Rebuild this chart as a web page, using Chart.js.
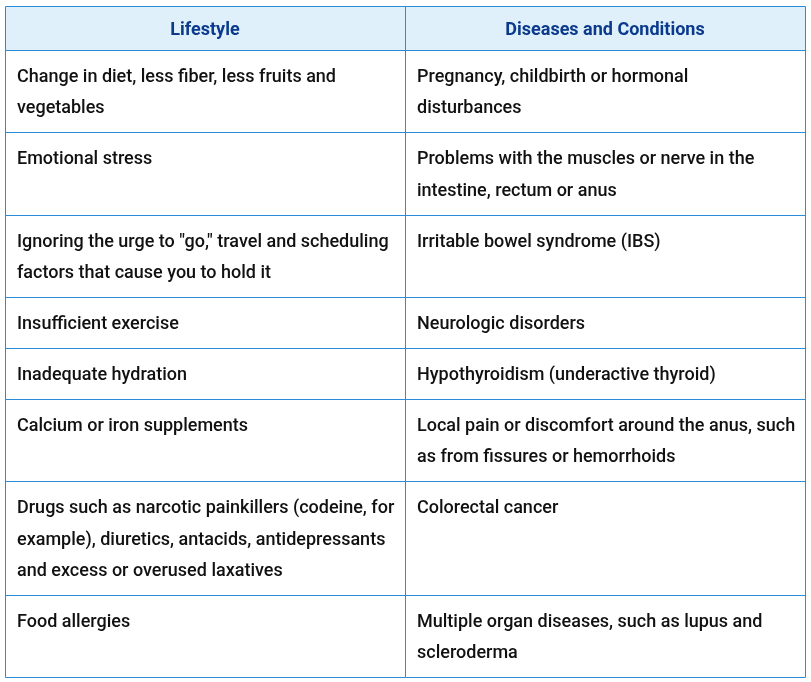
<!DOCTYPE html>
<html>
<head>
<meta charset="utf-8">
<script src="https://cdn.jsdelivr.net/npm/chart.js@4/dist/chart.umd.min.js"></script>
<style>
html,body{margin:0;padding:0;background:#fff;}
#wrap{width:811px;height:682px;}
</style>
</head>
<body>
<div id="wrap"><canvas id="c" width="811" height="682"></canvas></div>
<script>
const headers = ["Lifestyle", "Diseases and Conditions"];
const lifestyle = [
  ["Change in diet, less fiber, less fruits and", "vegetables"],
  ["Emotional stress"],
  ["Ignoring the urge to \"go,\" travel and scheduling", "factors that cause you to hold it"],
  ["Insufficient exercise"],
  ["Inadequate hydration"],
  ["Calcium or iron supplements"],
  ["Drugs such as narcotic painkillers (codeine, for", "example), diuretics, antacids, antidepressants", "and excess or overused laxatives"],
  ["Food allergies"]
];
const diseases = [
  ["Pregnancy, childbirth or hormonal", "disturbances"],
  ["Problems with the muscles or nerve in the", "intestine, rectum or anus"],
  ["Irritable bowel syndrome (IBS)"],
  ["Neurologic disorders"],
  ["Hypothyroidism (underactive thyroid)"],
  ["Local pain or discomfort around the anus, such", "as from fissures or hemorrhoids"],
  ["Colorectal cancer"],
  ["Multiple organ diseases, such as lupus and", "scleroderma"]
];

const HEADER_H = 44, LINE_H = 31, PAD_H = 20, FIRST = 27.5;
const lineCounts = lifestyle.map((l, i) => Math.max(l.length, diseases[i].length));
const rowTops = [];
let acc = HEADER_H;
lineCounts.forEach(n => { rowTops.push(acc); acc += PAD_H + LINE_H * n; });
const total = acc;
const boundaries = [0, HEADER_H, ...rowTops.slice(1), total];

const BORDER = "#2a8bd6";
const tablePlugin = {
  id: "table",
  beforeDraw(chart) {
    const ctx = chart.ctx, x = chart.scales.x, y = chart.scales.y;
    ctx.save();
    ctx.fillStyle = "#dff0fa";
    ctx.fillRect(x.getPixelForValue(0), y.getPixelForValue(0), x.getPixelForValue(2) - x.getPixelForValue(0), y.getPixelForValue(HEADER_H) - y.getPixelForValue(0));
    ctx.restore();
  },
  afterDraw(chart) {
    const ctx = chart.ctx, x = chart.scales.x, y = chart.scales.y;
    ctx.save();
    ctx.strokeStyle = BORDER;
    ctx.lineWidth = 1;
    const x0 = Math.round(x.getPixelForValue(0)) + 0.5, x2 = Math.round(x.getPixelForValue(2)) + 0.5;
    const y0 = Math.round(y.getPixelForValue(0)) + 0.5, yN = Math.round(y.getPixelForValue(total)) + 0.5;
    boundaries.forEach(b => {
      const py = Math.round(y.getPixelForValue(b)) + 0.5;
      ctx.beginPath(); ctx.moveTo(x0, py); ctx.lineTo(x2, py); ctx.stroke();
    });
    [0, 1, 2].forEach(v => {
      const px = Math.round(x.getPixelForValue(v)) + 0.5;
      ctx.beginPath(); ctx.moveTo(px, y0); ctx.lineTo(px, yN); ctx.stroke();
    });
    // header
    ctx.textBaseline = "middle";
    ctx.textAlign = "center";
    ctx.fillStyle = "#0b3a8c";
    ctx.font = "bold 18px Roboto";
    headers.forEach((h, i) => {
      ctx.fillText(h, x.getPixelForValue(i + 0.5), y.getPixelForValue(24));
    });
    // body
    ctx.textAlign = "left";
    ctx.fillStyle = "#111111";
    ctx.font = "500 18px Roboto";
    [lifestyle, diseases].forEach((col, ci) => {
      const px = x.getPixelForValue(ci) + 12;
      col.forEach((lines, ri) => {
        lines.forEach((t, li) => {
          ctx.fillText(t, px, y.getPixelForValue(rowTops[ri] + FIRST + LINE_H * li));
        });
      });
    });
    ctx.restore();
  }
};

function draw() {
  new Chart(document.getElementById("c"), {
    type: "scatter",
    data: { datasets: [{ data: [] }] },
    options: {
      responsive: false,
      animation: false,
      layout: { padding: { left: 5, right: 6, top: 6, bottom: 5 } },
      plugins: { legend: { display: false }, tooltip: { enabled: false } },
      scales: {
        x: { type: "linear", min: 0, max: 2, display: false },
        y: { type: "linear", min: 0, max: total, reverse: true, display: false }
      }
    },
    plugins: [tablePlugin]
  });
}
if (document.fonts && document.fonts.load) {
  Promise.all([document.fonts.load("500 18px Roboto"), document.fonts.load("bold 18px Roboto")]).then(draw, draw);
} else draw();
</script>
</body>
</html>
